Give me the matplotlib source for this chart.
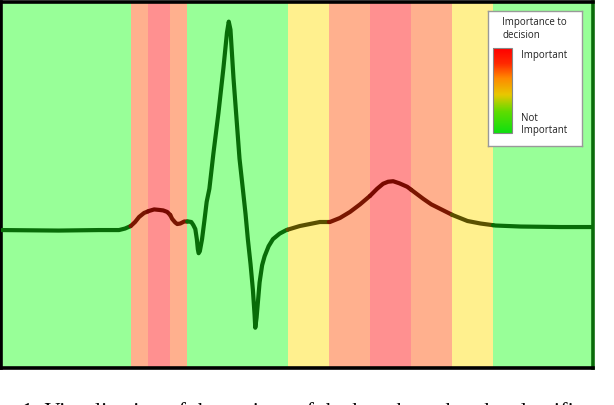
import numpy as np
import matplotlib
matplotlib.use("Agg")
import matplotlib.pyplot as plt
from matplotlib.colors import LinearSegmentedColormap
from matplotlib.patches import Rectangle

# ---- data ----
# heartbeat samples (time index) and amplitude (mV)
t = [0, 57, 97, 117, 123, 128.7, 133, 137, 142, 147, 152, 157, 161, 165, 168, 170,
     173, 175, 178, 182, 186, 189, 191, 193, 194.5, 195.5, 196.3, 197.5, 199.7, 202,
     204.3, 207, 211, 216, 221, 224.5, 226.3, 228, 231, 234, 237, 240.3, 243, 245.3,
     248, 250.3, 252, 252.7, 254, 257, 259.5, 262, 266, 270.3, 277, 283.7, 297, 317,
     327, 337, 347, 357, 367, 374, 380, 385, 390, 396, 404, 412, 420, 428, 437, 449,
     464, 477, 492, 517, 557, 589]
amp = [0.00, -0.005, 0.00, 0.00, 0.015, 0.04, 0.08, 0.13, 0.17, 0.19, 0.205, 0.20, 0.195,
       0.18, 0.15, 0.11, 0.075, 0.06, 0.065, 0.085, 0.085, 0.08, 0.05, 0.01, -0.09,
       -0.19, -0.23, -0.21, -0.09, 0.09, 0.28, 0.41, 0.76, 1.16, 1.61, 1.96, 2.07, 1.99,
       1.51, 1.11, 0.71, 0.41, 0.16, -0.09, -0.34, -0.59, -0.84, -0.97, -0.87, -0.52,
       -0.35, -0.26, -0.16, -0.09, -0.035, 0.00, 0.04, 0.08, 0.08, 0.12, 0.18, 0.255,
       0.34, 0.41, 0.46, 0.48, 0.485, 0.465, 0.43, 0.37, 0.31, 0.255, 0.21, 0.15, 0.09,
       0.065, 0.045, 0.035, 0.03, 0.03]

# importance segments: boundaries (time index) and importance level (0..3)
seg_edges = [0, 128.5, 145.8, 168, 185, 285, 326, 367, 408, 448.5, 489.5, 589]
seg_level = [0, 2, 3, 2, 0, 1, 2, 3, 2, 1, 0]

legend_title = "Importance to\ndecision"
legend_high = "Important"
legend_low = "Not\nImportant"
caption = "1: Visualization of the regions of the heartbeat that the classifier used for the decision"

# ---- styles ----
band_colors = {0: "#98ff98", 1: "#fff08e", 2: "#ffb08e", 3: "#ff9090"}
line_colors = {0: "#086c08", 1: "#5a5000", 2: "#7a1600", 3: "#780800"}

W, H = 614, 406
fig = plt.figure(figsize=(W / 100, H / 100), dpi=100)
fig.patch.set_facecolor("white")

ax = fig.add_axes([1.5 / W, (H - 369) / H, (593 - 1.5) / W, (369 - 2.5) / H])
ax.set_xlim(seg_edges[0], seg_edges[-1])
ax.set_ylim(-1.37, 2.27)
ax.set_xticks([])
ax.set_yticks([])

t_arr = np.asarray(t, dtype=float)
a_arr = np.asarray(amp, dtype=float)
for i, lev in enumerate(seg_level):
    x0, x1 = seg_edges[i], seg_edges[i + 1]
    ax.axvspan(x0, x1, color=band_colors[lev], lw=0, zorder=0)
    inside = t_arr[(t_arr > x0) & (t_arr < x1)]
    xs = np.concatenate([[x0], inside, [x1]])
    ys = np.interp(xs, t_arr, a_arr)  # split the drawn line at band edges
    ax.plot(xs, ys, color=line_colors[lev], lw=3.0, solid_capstyle="round",
            solid_joinstyle="round", zorder=3)

for side in ["top", "left", "bottom"]:
    ax.spines[side].set_color("black")
    ax.spines[side].set_linewidth(2.6)
ax.spines["right"].set_color("#0a6b0a")
ax.spines["right"].set_linewidth(2.6)

# ---- legend box ----
lx0, ly0, lx1, ly1 = 487.5, 12, 581.5, 146.5
lax = fig.add_axes([lx0 / W, (H - ly1) / H, (lx1 - lx0) / W, (ly1 - ly0) / H])
lax.set_xlim(lx0, lx1)
lax.set_ylim(ly1, ly0)
lax.set_xticks([])
lax.set_yticks([])
lax.set_facecolor("white")
for s in lax.spines.values():
    s.set_color("#999999")
    s.set_linewidth(1.0)

cmap = LinearSegmentedColormap.from_list(
    "imp", [(0.0, "#10e010"), (0.25, "#60dc00"), (0.45, "#e8c800"),
            (0.65, "#ff8800"), (0.82, "#ff2a00"), (1.0, "#ff0000")])
grad = np.linspace(1, 0, 100).reshape(-1, 1)
lax.imshow(grad, cmap=cmap, aspect="auto", extent=[492.5, 511.5, 133.5, 48.5], zorder=2)
lax.add_patch(Rectangle((492.5, 48.5), 19, 85, fill=False, ec="#888888", lw=0.8, zorder=3))

font = ["Open Sans", "DejaVu Sans"]
lax.text(502.5, 17, legend_title, family=font, fontsize=7.0, va="top", ha="left",
         color="#222222", linespacing=1.2)
lax.text(521.5, 55, legend_high, family=font, fontsize=7.0, va="center", ha="left",
         color="#222222")
lax.text(521.5, 124.5, legend_low, family=font, fontsize=7.0, va="center", ha="left",
         color="#222222", linespacing=1.1)

# ---- caption (cut at the figure's lower edge, as in the source) ----
fig.text(22 / W, (H - 417) / H, caption, family=["Liberation Serif", "DejaVu Serif"],
         fontsize=16, va="baseline", ha="left", color="black")

fig.savefig("out.png", dpi=100)
